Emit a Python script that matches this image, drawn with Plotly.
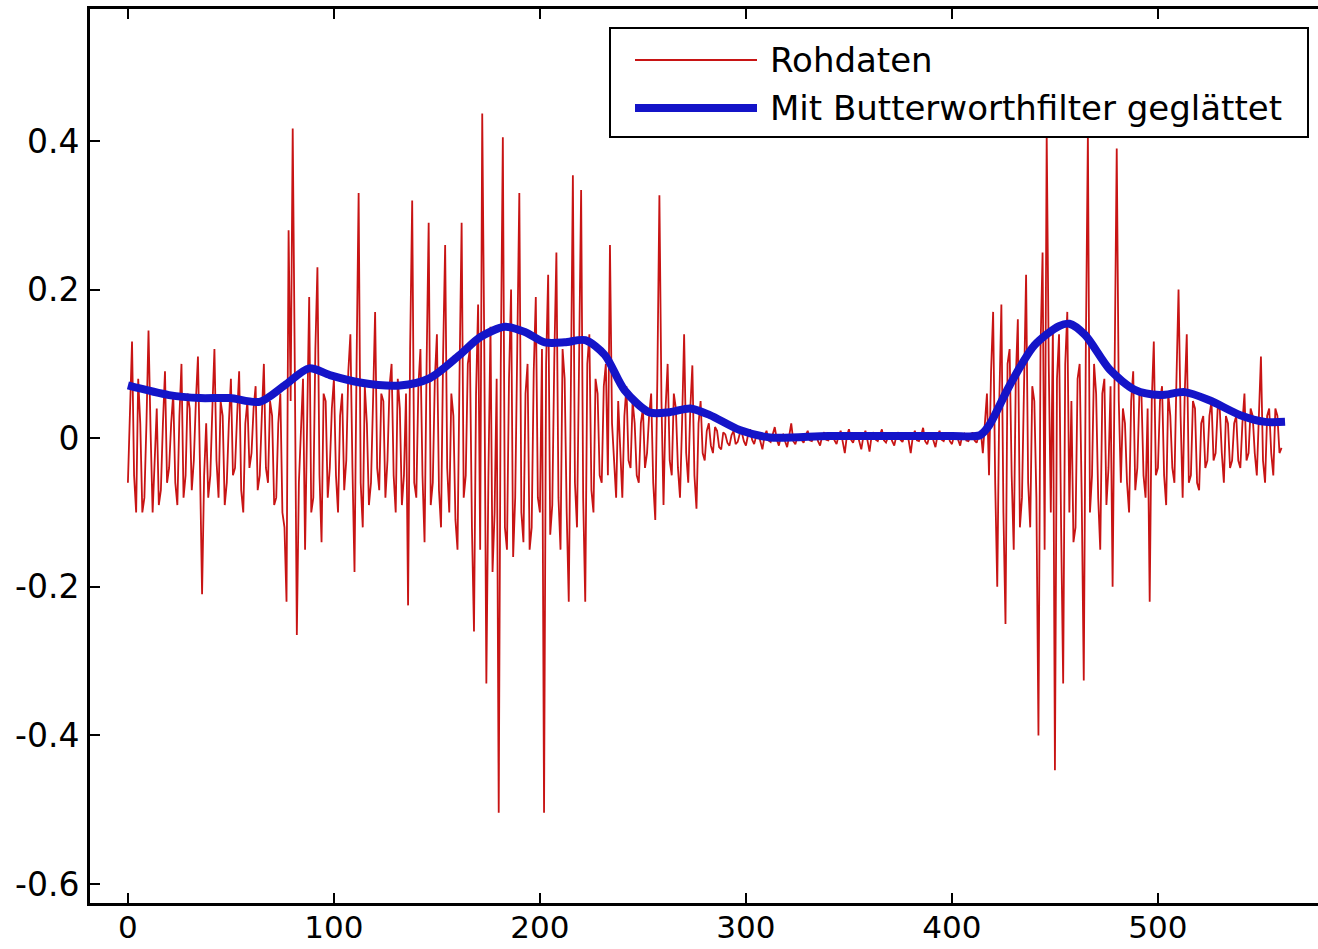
import plotly.graph_objects as go

# ---------------- data ----------------
# raw samples, one value per sample index 0..560 (20 per row)
raw_y = [
    -0.06, 0.03, 0.13, -0.05, -0.10, 0.08, 0.02, -0.10, -0.08, 0.02, 0.145, 0.01, -0.10, -0.03, 0.04, -0.09, -0.07, 0.02, 0.09, -0.06,
    -0.04, 0.02, 0.06, -0.06, -0.09, 0.03, 0.10, -0.08, -0.05, 0.06, 0.04, -0.07, -0.03, 0.05, 0.11, -0.04, -0.21, -0.05, 0.02, -0.08,
    -0.05, 0.04, 0.12, -0.03, -0.08, 0.05, 0.03, -0.09, -0.06, 0.02, 0.08, -0.05, -0.04, 0.03, 0.09, -0.07, -0.10, 0.02, 0.05, -0.04,
    -0.02, 0.04, 0.07, -0.07, -0.05, 0.03, 0.10, -0.04, -0.06, 0.05, 0.03, -0.09, -0.08, 0.02, 0.06, -0.10, -0.12, -0.22, 0.28, 0.05,
    0.417, 0.10, -0.265, -0.06, 0.02, 0.08, -0.15, 0.05, 0.19, -0.10, -0.08, 0.12, 0.23, -0.05, -0.14, 0.06, 0.05, -0.08, -0.04, 0.04,
    0.08, -0.05, -0.10, 0.03, 0.06, -0.07, -0.03, 0.09, 0.14, -0.04, -0.18, 0.10, 0.33, -0.06, -0.12, 0.07, 0.02, -0.09, -0.06, 0.05,
    0.17, -0.04, -0.07, 0.06, 0.05, -0.08, -0.03, 0.07, 0.10, -0.05, -0.10, 0.08, 0.04, -0.09, -0.05, 0.06, -0.225, 0.12, 0.32, -0.06,
    -0.08, 0.07, 0.12, -0.05, -0.14, 0.10, 0.29, -0.09, -0.06, 0.08, 0.14, -0.07, -0.12, 0.11, 0.26, -0.04, -0.10, 0.06, 0.03, -0.11,
    -0.15, 0.09, 0.29, -0.08, -0.05, 0.10, 0.12, -0.12, -0.26, 0.06, 0.18, -0.15, 0.437, 0.12, -0.33, -0.05, 0.15, -0.18, -0.10, 0.08,
    -0.504, 0.10, 0.405, -0.12, -0.15, 0.08, 0.20, -0.16, -0.08, 0.12, 0.33, -0.10, -0.14, 0.06, 0.10, -0.15, -0.12, 0.09, 0.19, -0.08,
    -0.10, 0.12, -0.504, 0.10, 0.22, -0.13, -0.09, 0.11, 0.25, -0.08, -0.15, 0.12, 0.08, -0.10, -0.22, 0.06, 0.354, -0.06, -0.12, 0.10,
    0.334, -0.08, -0.22, 0.10, 0.14, -0.07, -0.10, 0.08, 0.06, -0.05, -0.06, 0.07, 0.10, -0.05, 0.26, 0.02, -0.03, -0.08, 0.05, -0.02,
    -0.08, 0.03, 0.07, -0.03, -0.04, 0.05, 0.02, -0.05, -0.06, 0.02, 0.04, -0.04, -0.02, 0.03, 0.06, -0.06, -0.11, 0.08, 0.327, 0.05,
    -0.09, 0.04, 0.10, -0.03, -0.05, 0.06, 0.04, -0.04, -0.08, 0.02, 0.14, -0.02, -0.06, 0.04, 0.098, -0.05, -0.095, 0.02, 0.05, -0.02,
    -0.03, 0.01, 0.02, -0.01, -0.02, 0.015, 0.01, -0.012, -0.015, 0.008, 0.005, -0.006, -0.01, 0.004, 0.01, -0.008, -0.005, 0.006, 0.008, -0.004,
    -0.01, 0.004, 0.012, -0.002, -0.008, 0.003, 0.006, -0.004, -0.015, 0.002, 0.01, -0.003, -0.005, 0.005, 0.015, -0.002, -0.01, 0.003, 0.005, -0.004,
    -0.012, 0.003, 0.02, -0.004, -0.008, 0.002, 0.004, -0.002, -0.006, 0.004, 0.01, -0.003, -0.004, 0.002, 0.006, -0.004, -0.01, 0.003, 0.008, -0.002,
    -0.003, 0.002, 0.005, -0.003, -0.008, 0.004, 0.01, -0.005, -0.02, 0.003, 0.012, -0.002, -0.006, 0.003, 0.006, -0.004, -0.015, 0.002, 0.01, -0.003,
    -0.018, 0.003, 0.008, -0.002, -0.004, 0.004, 0.012, -0.003, -0.006, 0.002, 0.004, -0.004, -0.01, 0.003, 0.008, -0.002, -0.005, 0.004, 0.006, -0.003,
    -0.02, 0.002, 0.01, -0.003, -0.004, 0.003, 0.014, -0.004, -0.008, 0.002, 0.005, -0.003, -0.012, 0.004, 0.01, -0.002, -0.004, 0.003, 0.006, -0.004,
    -0.008, 0.003, 0.004, -0.002, -0.01, 0.004, 0.006, -0.003, -0.004, 0.002, 0.008, -0.003, -0.006, 0.004, 0.01, -0.02, 0.02, 0.06, -0.05, 0.09,
    0.17, -0.06, -0.20, 0.05, 0.18, -0.10, -0.25, 0.10, 0.12, -0.05, -0.15, 0.08, 0.16, -0.12, -0.08, 0.09, 0.22, -0.06, -0.12, 0.07,
    0.05, -0.08, -0.40, 0.12, 0.25, -0.15, 0.41, 0.10, -0.10, 0.15, -0.447, 0.08, 0.14, -0.12, -0.33, 0.10, 0.17, -0.10, 0.05, -0.14,
    -0.12, 0.08, 0.10, -0.08, -0.326, 0.12, 0.41, -0.10, -0.05, 0.10, 0.06, -0.08, -0.15, 0.06, 0.08, -0.09, -0.04, 0.07, -0.20, 0.10,
    0.39, 0.05, -0.06, 0.04, 0.02, -0.06, -0.10, 0.05, 0.09, -0.07, -0.04, 0.06, 0.06, -0.05, -0.08, 0.04, -0.22, 0.05, 0.13, -0.05,
    -0.04, 0.05, 0.07, -0.05, -0.09, 0.06, 0.03, -0.04, -0.06, 0.08, 0.20, 0.03, -0.08, 0.06, 0.14, -0.06, -0.05, 0.05, 0.04, -0.06,
    -0.07, 0.02, 0.03, -0.04, -0.03, 0.03, 0.05, -0.03, -0.02, 0.04, 0.04, -0.02, -0.06, 0.03, 0.02, -0.04, -0.03, 0.02, 0.03, -0.03,
    -0.04, 0.02, 0.06, -0.03, -0.02, 0.04, 0.03, -0.02, -0.05, 0.03, 0.11, -0.03, -0.06, 0.03, 0.04, -0.02, -0.05, 0.04, 0.03, -0.02,
    -0.013,
]
raw_x = list(range(len(raw_y)))

smooth_x = [0, 20, 35, 49.5, 64, 76, 88, 98, 112.6, 132, 146.6, 161, 171, 183,
            192.7, 202.4, 212, 222, 231.5, 241, 253, 263, 273, 282.5, 297,
            311.7, 340, 370, 400, 413.6, 418, 428, 440, 452, 457, 464.6,
            476.7, 488.8, 501, 513, 525, 540, 552, 561.7]
smooth_y = [0.071, 0.058, 0.054, 0.054, 0.049, 0.071, 0.094, 0.085, 0.075,
            0.071, 0.081, 0.112, 0.136, 0.150, 0.143, 0.129, 0.129, 0.132,
            0.112, 0.065, 0.035, 0.035, 0.040, 0.031, 0.011, 0.001, 0.003,
            0.003, 0.003, 0.004, 0.017, 0.071, 0.125, 0.151, 0.154, 0.139,
            0.092, 0.065, 0.058, 0.062, 0.051, 0.031, 0.022, 0.022]

series_names = ["Rohdaten", "Mit Butterworthfilter geglättet"]
x_ticks = [0, 100, 200, 300, 400, 500]
y_ticks = [0.4, 0.2, 0, -0.2, -0.4, -0.6]
y_tick_labels = ["0.4", "0.2", "0", "-0.2", "-0.4", "-0.6"]

RED = "#c81414"
BLUE = "#1414c8"

# ---------------- layout geometry ----------------
FIG_W, FIG_H = 1318, 949
M_L, M_R, M_T, M_B = 90, 0, 9, 46
PW = FIG_W - M_L - M_R
PH = FIG_H - M_T - M_B


def px(xp):
    return (xp - M_L) / PW


def py(yp):
    return (FIG_H - M_B - yp) / PH


fig = go.Figure()
fig.add_trace(go.Scatter(x=raw_x, y=raw_y, mode="lines", name=series_names[0],
                         line=dict(color=RED, width=1.8), showlegend=False))
fig.add_trace(go.Scatter(x=smooth_x, y=smooth_y, mode="lines", name=series_names[1],
                         line=dict(color=BLUE, width=8, shape="spline", smoothing=0.8),
                         showlegend=False))

FONT = "DejaVu Sans, Arial, sans-serif"

# manual MATLAB-style legend box
shapes = [
    dict(type="rect", xref="paper", yref="paper", x0=px(610), x1=px(1308),
         y0=py(137), y1=py(28), line=dict(color="black", width=2),
         fillcolor="white", layer="above"),
    dict(type="line", xref="paper", yref="paper", x0=px(635), x1=px(757),
         y0=py(60), y1=py(60), line=dict(color=RED, width=1.8), layer="above"),
    dict(type="line", xref="paper", yref="paper", x0=px(635), x1=px(757),
         y0=py(108), y1=py(108), line=dict(color=BLUE, width=8), layer="above"),
]
annotations = [
    dict(xref="paper", yref="paper", x=px(768), y=py(60), text=series_names[0],
         showarrow=False, xanchor="left", yanchor="middle",
         font=dict(family=FONT, size=34, color="black")),
    dict(xref="paper", yref="paper", x=px(768), y=py(108), text=series_names[1],
         showarrow=False, xanchor="left", yanchor="middle",
         font=dict(family=FONT, size=34, color="black")),
]

fig.update_layout(
    width=FIG_W, height=FIG_H,
    margin=dict(l=M_L, r=M_R, t=M_T, b=M_B, pad=0),
    paper_bgcolor="white", plot_bgcolor="white",
    font=dict(family=FONT, size=33, color="black"),
    shapes=shapes, annotations=annotations,
    showlegend=False,
    xaxis=dict(range=[-18.4, 577.7], tickmode="array", tickvals=x_ticks,
               ticks="inside", ticklen=10, tickwidth=2, tickcolor="black",
               showline=True, linewidth=3, linecolor="black", mirror="ticks",
               showgrid=False, zeroline=False, ticklabelstandoff=-5,
               automargin=False,
               tickfont=dict(family=FONT, size=31, color="black")),
    yaxis=dict(range=[-0.6256, 0.5777], tickmode="array", tickvals=y_ticks,
               ticktext=y_tick_labels,
               ticks="inside", ticklen=10, tickwidth=2, tickcolor="black",
               showline=True, linewidth=3, linecolor="black",
               showgrid=False, zeroline=False, ticklabelstandoff=1,
               automargin=False,
               tickfont=dict(family=FONT, size=33, color="black")),
)

fig.write_html("out.html")
